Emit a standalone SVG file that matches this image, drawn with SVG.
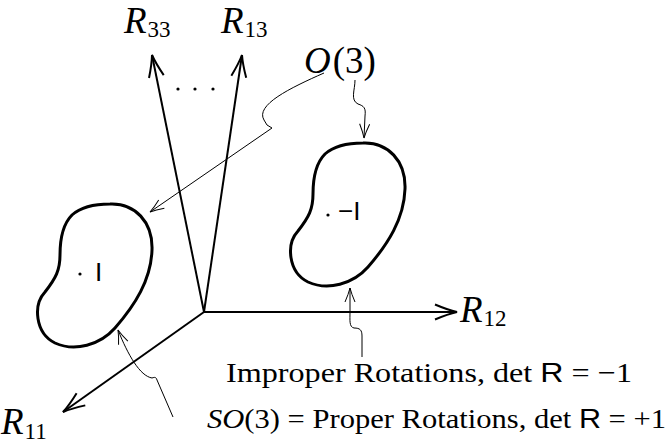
<svg xmlns="http://www.w3.org/2000/svg" width="670" height="447" viewBox="0 0 670 447">
<style>
.axis{fill:none;stroke:#000;stroke-width:2}
.blob{fill:none;stroke:#000;stroke-width:3}
.thin{fill:none;stroke:#000;stroke-width:1}
.math{font-family:"Liberation Serif",serif;font-style:italic;font-size:37px;fill:#000}
.sub{font-family:"Liberation Serif",serif;font-style:normal;font-size:23px}
.rm{font-family:"Liberation Serif",serif;font-size:28px;fill:#000}
.sf{font-family:"Liberation Sans",sans-serif;font-style:normal}
.it{font-style:italic}
.up{font-style:normal}
</style>
<defs>
<marker id="big" markerUnits="userSpaceOnUse" markerWidth="30" markerHeight="20" viewBox="-24 -10 30 20" refX="0" refY="0" orient="auto">
<path d="M -22 -7.5 Q -9 -2 0 0 Q -9 2 -22 7.5" fill="none" stroke="#000" stroke-width="2"/>
</marker>
<marker id="small" markerUnits="userSpaceOnUse" markerWidth="20" markerHeight="14" viewBox="-16 -7 20 14" refX="0" refY="0" orient="auto">
<path d="M -14 -5 Q -6 -1.5 0 0 Q -6 1.5 -14 5" fill="none" stroke="#000" stroke-width="1"/>
</marker>
<path id="blobshape" d="M 110 204 C 135 203 153 222 152 250 C 151 280 135 305 115 328 C 100 345 75 352 55 343 C 35 333 33 305 45 292 C 56 278 60 270 60 255 C 60 240 62 225 72 215 C 82 206 95 204 110 204 Z"/>
</defs>
<g id="connectors">
<line class="axis" x1="204" y1="312" x2="152" y2="55" marker-end="url(#big)"/>
<line class="axis" x1="204" y1="312" x2="242" y2="55" marker-end="url(#big)"/>
<line class="axis" x1="204" y1="312" x2="457" y2="312" marker-end="url(#big)"/>
<line class="axis" x1="204" y1="312" x2="63" y2="412" marker-end="url(#big)"/>
<path class="thin" d="M 355 80 C 355 90 350 100 358 104 C 364 106 366 108 365 116 L 364 138" marker-end="url(#small)"/>
<path class="thin" d="M 324 73 C 290 88 255 105 264 120 Q 266 126 272 128 L 150 212" marker-end="url(#small)"/>
<path class="thin" d="M 362 357 L 362 336 C 362 330 360 328 354 328 C 349 327 350 320 350 312 L 350 288" marker-end="url(#small)"/>
<path class="thin" d="M 173 417 L 157 380 C 156 377 155 377 152 378 C 140 376 128 355 118 330" marker-end="url(#small)"/>
</g>
<g id="so3">
<use href="#blobshape" class="blob"/>
<circle cx="80" cy="274" r="1.6"/>
<text x="95" y="281" class="sf" font-size="26">I</text>
</g>
<g id="improper">
<use href="#blobshape" class="blob" transform="translate(253,-61)"/>
<circle cx="328" cy="215" r="1.6"/>
<text x="338" y="220" class="sf" font-size="26">−I</text>
</g>
<g id="dots">
<circle cx="178" cy="89" r="1.6"/>
<circle cx="195" cy="89" r="1.6"/>
<circle cx="213" cy="89" r="1.6"/>
</g>
<g id="label-R33"><text class="math" x="124" y="33">R<tspan class="sub" dx="1" dy="4">33</tspan></text></g>
<g id="label-R13"><text class="math" x="221" y="33">R<tspan class="sub" dx="1" dy="4">13</tspan></text></g>
<g id="label-R12"><text class="math" x="460" y="322">R<tspan class="sub" dx="1" dy="4">12</tspan></text></g>
<g id="label-R11"><text class="math" x="1" y="434">R<tspan class="sub" dx="1" dy="5">11</tspan></text></g>
<g id="label-O3"><text class="math" x="304" y="73">O<tspan class="up" dx="2">(3)</tspan></text></g>
<g id="label-improper"><text class="rm" x="226" y="382" textLength="406" lengthAdjust="spacingAndGlyphs">Improper Rotations, det <tspan class="sf">R</tspan> = −1</text></g>
<g id="label-proper"><text class="rm" x="207" y="428" textLength="459" lengthAdjust="spacingAndGlyphs"><tspan class="it">SO</tspan>(3) = Proper Rotations, det <tspan class="sf">R</tspan> = +1</text></g>
</svg>
